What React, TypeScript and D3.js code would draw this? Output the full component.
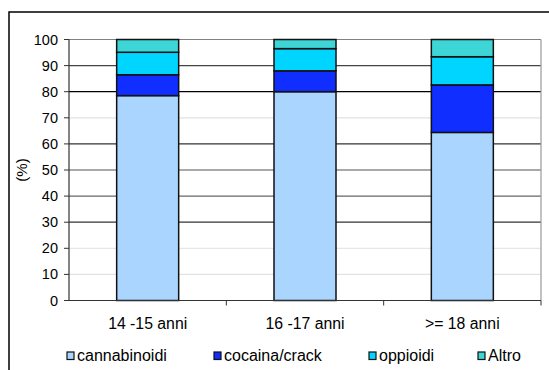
import React from "react";
import * as d3 from "d3";

const categories = ["14 -15 anni", "16 -17 anni", ">= 18 anni"];
const seriesNames = ["cannabinoidi", "cocaina/crack", "oppioidi", "Altro"];
const cannabinoidi = [78.5, 80.0, 64.4];
const cocaina = [8.0, 8.0, 18.2];
const oppioidi = [8.6, 8.5, 10.8];
const altro = [4.9, 3.5, 6.6];
const yTicks = [0, 10, 20, 30, 40, 50, 60, 70, 80, 90, 100];

const seriesColors = ["#AAD5FE", "#0F2EFF", "#00D5FF", "#3DD5D5"];
const gridColors = ["#333", "#e2e2e2", "#e6e6e6", "#333", "#666", "#555", "#333", "#e2e2e2", "#000", "#444", "#808080"];

const W = 549;
const H = 370;
const plot = { left: 69, right: 541, top: 39.5, bottom: 300.5 };

export default function App() {
  const seriesValues = [cannabinoidi, cocaina, oppioidi, altro];
  const rows = categories.map((c, i) => {
    const r: any = { cat: c };
    seriesNames.forEach((s, j) => (r[s] = seriesValues[j][i]));
    return r;
  });
  const stacked = d3.stack().keys(seriesNames)(rows);

  const x = d3.scaleBand().domain(categories).range([plot.left, plot.right]).paddingInner(0).paddingOuter(0);
  const y = d3.scaleLinear().domain([0, 100]).range([plot.bottom, plot.top]);
  const barW = 62;

  const font = "Liberation Sans, Arial, sans-serif";

  return (
    <svg width={W} height={H} style={{ position: "absolute", left: 0, top: 0, background: "#fff" }}>
      <rect x={0} y={0} width={W} height={H} fill="#fff" />
      {/* outer frame */}
      <path d={`M9,${H + 5} V12 H${W + 5}`} fill="none" stroke="#000" strokeWidth={1.5} />
      {/* gridlines */}
      {yTicks.map((t, i) => (
        <line key={"g" + t} x1={plot.left} x2={plot.right} y1={y(t)} y2={y(t)} stroke={gridColors[i]} strokeWidth={1.2} />
      ))}
      {/* right border */}
      <line x1={plot.right} x2={plot.right} y1={plot.top} y2={plot.bottom} stroke="#999" strokeWidth={1.2} />
      {/* bars */}
      {stacked.map((s, si) =>
        s.map((d, ci) => (
          <rect
            key={si + "-" + ci}
            x={(x(categories[ci]) as number) + x.bandwidth() / 2 - barW / 2}
            y={y(d[1])}
            width={barW}
            height={y(d[0]) - y(d[1])}
            fill={seriesColors[si]}
            stroke="#111"
            strokeWidth={1.5}
          />
        ))
      )}
      {/* axes */}
      <line x1={plot.left} x2={plot.left} y1={plot.top} y2={plot.bottom} stroke="#333" strokeWidth={1.2} />
      <line x1={plot.left} x2={plot.right} y1={plot.bottom} y2={plot.bottom} stroke="#333" strokeWidth={1.2} />
      {yTicks.map((t) => (
        <g key={"t" + t}>
          <line x1={plot.left - 5} x2={plot.left} y1={y(t)} y2={y(t)} stroke="#333" strokeWidth={1} />
          <text x={58} y={y(t)} dy="0.35em" textAnchor="end" fontFamily={font} fontSize={14.5} fill="#000">
            {t}
          </text>
        </g>
      ))}
      {categories.map((c, i) => (
        <g key={"c" + c}>
          {i > 0 && (
            <line x1={x(c) as number} x2={x(c) as number} y1={plot.bottom} y2={plot.bottom + 5} stroke="#333" strokeWidth={1} />
          )}
          <text
            x={(x(c) as number) + x.bandwidth() / 2}
            y={328.5}
            textAnchor="middle"
            fontFamily={font}
            fontSize={15.8}
            fill="#000"
          >
            {c}
          </text>
        </g>
      ))}
      <line x1={plot.right} x2={plot.right} y1={plot.bottom} y2={plot.bottom + 5} stroke="#333" strokeWidth={1} />
      {/* y label */}
      <text
        transform={`translate(27,170) rotate(-90)`}
        textAnchor="middle"
        fontFamily={font}
        fontSize={15}
        fill="#000"
      >
        (%)
      </text>
      {/* legend */}
      {seriesNames.map((s, i) => {
        const lx = [67, 214, 369, 478][i];
        return (
          <g key={"l" + s}>
            <rect x={lx} y={352} width={7} height={7.5} fill={seriesColors[i]} stroke="#111" strokeWidth={1.2} />
            <text x={lx + 10} y={360.5} fontFamily={font} fontSize={16} fill="#000">
              {s}
            </text>
          </g>
        );
      })}
    </svg>
  );
}
